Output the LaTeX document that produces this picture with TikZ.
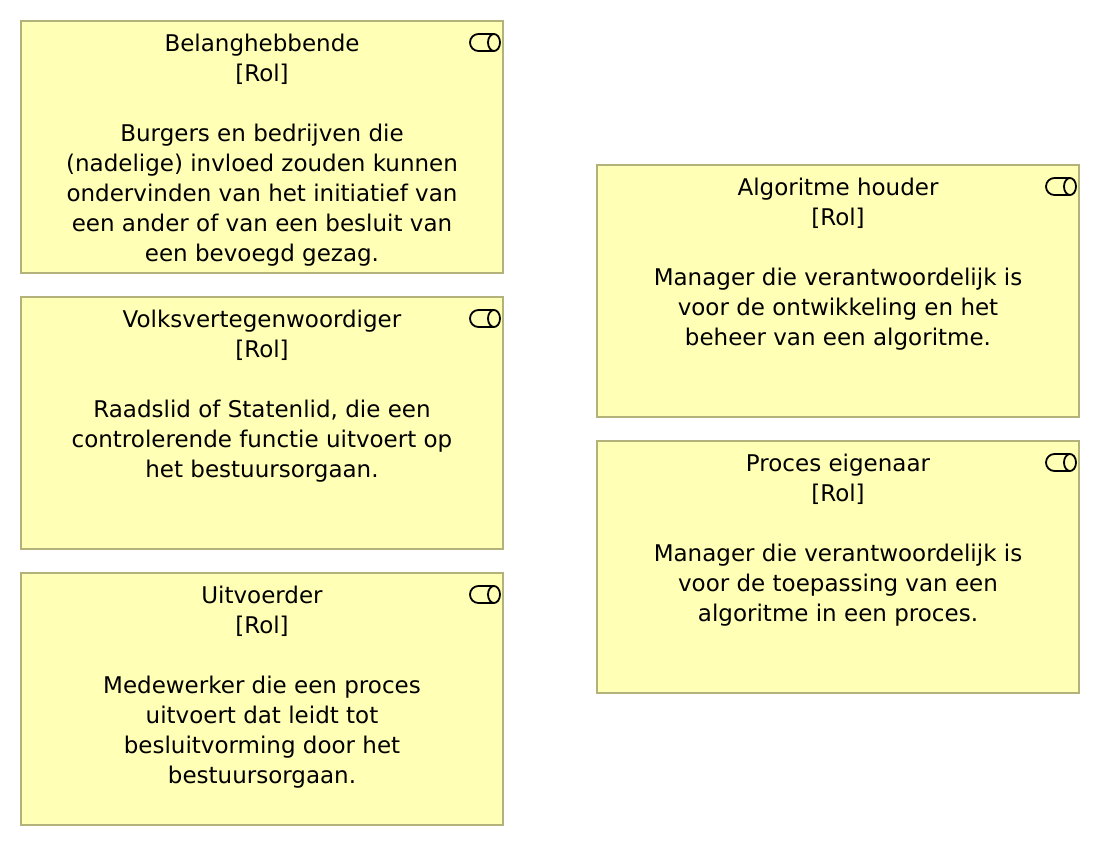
\documentclass[tikz,border=0pt]{standalone}
\usepackage{fontspec}
\setmainfont{DejaVu Sans}
\definecolor{rolfill}{HTML}{FFFFB5}
\definecolor{rolline}{HTML}{B2B27A}
\tikzset{
    rolbox/.style={draw=rolline,fill=rolfill,line width=2pt,minimum width=482pt,minimum height=252pt,inner sep=0pt},
    roltext/.style={anchor=north,align=center,inner sep=0pt,text=black,font=\fontsize{23}{30}\selectfont},
    rolicon/.style={draw=black,line width=1.8pt}
}
\newcommand{\rolsymbol}[1]{%
    \draw[rolicon] ([shift={(-10pt,-14pt)}]#1.north east) arc (90:-90:6pt and 8.5pt) -- ++(-15.5pt,0pt) arc (270:90:8.5pt) -- cycle;
    \draw[rolicon] ([shift={(-10pt,-14pt)}]#1.north east) arc (90:270:6pt and 8.5pt);
}
\begin{document}
\begin{tikzpicture}[x=1pt,y=-1pt]
    \useasboundingbox (0,0) rectangle (1100,846);
    %% Boxes
    \node[rolbox] (belang) at (262,147) {};
    \node[rolbox] (volks) at (262,423) {};
    \node[rolbox] (uitvoer) at (262,699) {};
    \node[rolbox] (houder) at (838,291) {};
    \node[rolbox] (eigenaar) at (838,567) {};
    %% Texts
    \node[roltext] (belangtext) at ([yshift=-14pt]belang.north) {Belanghebbende\\ {[Rol]}\\[30pt] Burgers en bedrijven die\\ (nadelige) invloed zouden kunnen\\ ondervinden van het initiatief van\\ een ander of van een besluit van\\ een bevoegd gezag.};
    \node[roltext] (volkstext) at ([yshift=-14pt]volks.north) {Volksvertegenwoordiger\\ {[Rol]}\\[30pt] Raadslid of Statenlid, die een\\ controlerende functie uitvoert op\\ het bestuursorgaan.};
    \node[roltext] (uitvoertext) at ([yshift=-14pt]uitvoer.north) {Uitvoerder\\ {[Rol]}\\[30pt] Medewerker die een proces\\ uitvoert dat leidt tot\\ besluitvorming door het\\ bestuursorgaan.};
    \node[roltext] (houdertext) at ([yshift=-14pt]houder.north) {Algoritme houder\\ {[Rol]}\\[30pt] Manager die verantwoordelijk is\\ voor de ontwikkeling en het\\ beheer van een algoritme.};
    \node[roltext] (eigenaartext) at ([yshift=-14pt]eigenaar.north) {Proces eigenaar\\ {[Rol]}\\[30pt] Manager die verantwoordelijk is\\ voor de toepassing van een\\ algoritme in een proces.};
    %% Icons
    \rolsymbol{belang}
    \rolsymbol{volks}
    \rolsymbol{uitvoer}
    \rolsymbol{houder}
    \rolsymbol{eigenaar}
\end{tikzpicture}
\end{document}
